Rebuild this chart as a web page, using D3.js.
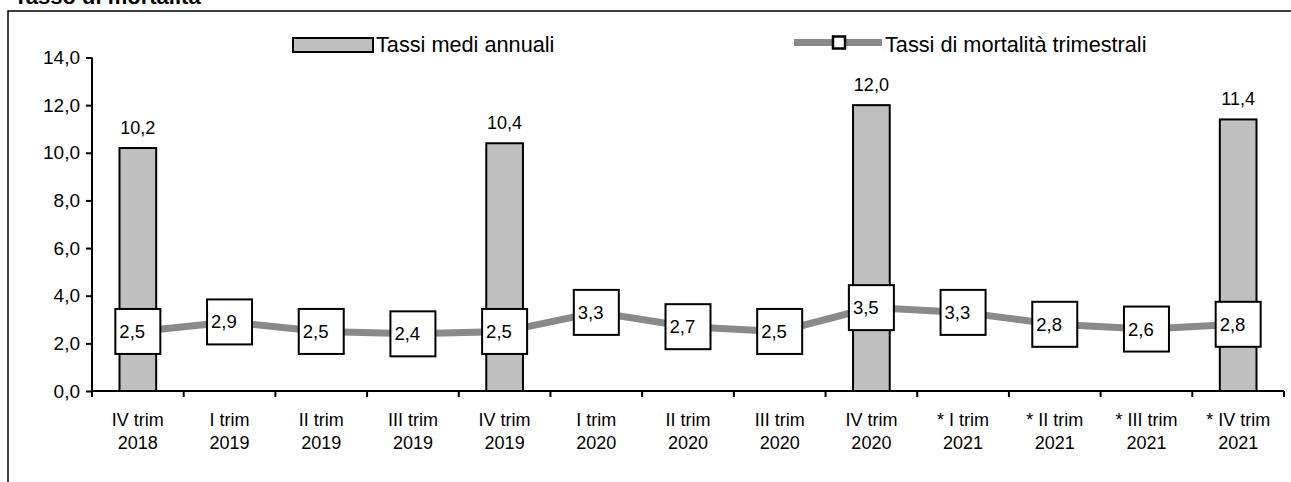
<!DOCTYPE html>
<html><head><meta charset="utf-8">
<script src="https://cdn.jsdelivr.net/npm/d3@7"></script>
<style>
html,body{margin:0;padding:0;background:#fff;}
svg text{font-family:"Liberation Sans",Arial,sans-serif;fill:#000;}
</style></head>
<body>
<svg id="chart" width="1291" height="482"></svg>
<script>
const categories = [["IV trim","2018"],["I trim","2019"],["II trim","2019"],["III trim","2019"],["IV trim","2019"],["I trim","2020"],["II trim","2020"],["III trim","2020"],["IV trim","2020"],["* I trim","2021"],["* II trim","2021"],["* III trim","2021"],["* IV trim","2021"]];
const annualRates = [10.2,null,null,null,10.4,null,null,null,12.0,null,null,null,11.4];
const quarterlyRates = [2.5,2.9,2.5,2.4,2.5,3.3,2.7,2.5,3.5,3.3,2.8,2.6,2.8];
const yTicks = [0,2,4,6,8,10,12,14];
const seriesNames = ["Tassi medi annuali","Tassi di mortalità trimestrali"];
const chartTitle = "Tasso di mortalità";

(function(){
const svg = d3.select("#chart");
const fmt = v => d3.format(".1f")(v).replace(".", ",");
const pL = 92, pR = 1284, pT = 57.5, pB = 391;

const x = d3.scaleBand().domain(d3.range(categories.length)).range([pL, pR]).paddingInner(0).paddingOuter(0);
const y = d3.scaleLinear().domain([0, 14]).range([pB, pT]);

// frame
svg.append("path").attr("d", `M8,482 L8,11 L1291,11`).attr("fill","none").attr("stroke","#000").attr("stroke-width",1.5);
// title (cut off at the top edge, as in the reference)
svg.append("text").attr("x",14).attr("y",4).attr("font-size",22).attr("font-weight","bold").text(chartTitle);

// bars
const barW = x.bandwidth()*0.4;
const barData = annualRates.map((v,i)=>({v,i})).filter(d=>d.v!=null);
svg.append("g").selectAll("rect").data(barData).join("rect")
  .attr("x", d => x(d.i) + x.bandwidth()/2 - barW/2)
  .attr("y", d => y(d.v))
  .attr("width", barW)
  .attr("height", d => y(0) - y(d.v))
  .attr("fill","#c0c0c0").attr("stroke","#000").attr("stroke-width",2);
svg.append("g").selectAll("text").data(barData).join("text")
  .attr("x", d => x(d.i) + x.bandwidth()/2)
  .attr("y", d => y(d.v) - 14)
  .attr("text-anchor","middle").attr("font-size",18)
  .text(d => fmt(d.v));

// axes
const yAxis = d3.axisLeft(y).tickValues(yTicks).tickFormat(fmt).tickSize(6).tickPadding(6);
const gy = svg.append("g").attr("transform",`translate(${pL},0)`).call(yAxis);
gy.select(".domain").attr("stroke","#000").attr("stroke-width",2).attr("d",`M0,${pT}V${pB}`);
gy.selectAll(".tick line").attr("stroke","#000").attr("stroke-width",2);
gy.selectAll(".tick text").attr("font-size",19).attr("font-family","Liberation Sans, Arial, sans-serif").attr("fill","#000");

const edges = d3.range(categories.length+1).map(i => pL + i*x.step());
const xg = svg.append("g");
xg.append("line").attr("x1",pL).attr("x2",pR).attr("y1",pB).attr("y2",pB).attr("stroke","#000").attr("stroke-width",2);
xg.selectAll("line.t").data(edges).join("line").attr("class","t")
  .attr("x1",d=>d).attr("x2",d=>d).attr("y1",pB).attr("y2",pB+6).attr("stroke","#000").attr("stroke-width",2);
const xl = xg.selectAll("text.xl").data(categories).join("text").attr("class","xl")
  .attr("text-anchor","middle").attr("font-size",18)
  .attr("transform",(d,i)=>`translate(${x(i)+x.bandwidth()/2},0)`);
xl.append("tspan").attr("x",0).attr("y",425.5).text(d=>d[0]);
xl.append("tspan").attr("x",0).attr("y",448.5).text(d=>d[1]);

// line
const line = d3.line().x((d,i)=>x(i)+x.bandwidth()/2).y(d=>y(d));
svg.append("path").datum(quarterlyRates).attr("d",line).attr("fill","none").attr("stroke","#8a8a8a").attr("stroke-width",7);

// label boxes
const bs = 45;
const g = svg.append("g").selectAll("g").data(quarterlyRates).join("g")
  .attr("transform",(d,i)=>`translate(${x(i)+x.bandwidth()/2},${y(d)})`);
g.append("rect").attr("x",-bs/2).attr("y",-bs/2).attr("width",bs).attr("height",bs)
  .attr("fill","#fff").attr("stroke","#000").attr("stroke-width",2);
g.append("text").attr("x",-bs/2+4).attr("y",6.5).attr("font-size",18.5).text(d=>fmt(d));

// legend
const lg = svg.append("g");
lg.append("rect").attr("x",293).attr("y",38).attr("width",80).attr("height",14).attr("fill","#c0c0c0").attr("stroke","#000").attr("stroke-width",2);
lg.append("text").attr("x",376).attr("y",52).attr("font-size",21.7).text(seriesNames[0]);
lg.append("line").attr("x1",794).attr("x2",882).attr("y1",42.5).attr("y2",42.5).attr("stroke","#8a8a8a").attr("stroke-width",7);
lg.append("rect").attr("x",833).attr("y",36.5).attr("width",12).attr("height",12).attr("fill","#fff").attr("stroke","#000").attr("stroke-width",2.5);
lg.append("text").attr("x",885).attr("y",51.5).attr("font-size",21.7).text(seriesNames[1]);
})();
</script>
</body></html>
